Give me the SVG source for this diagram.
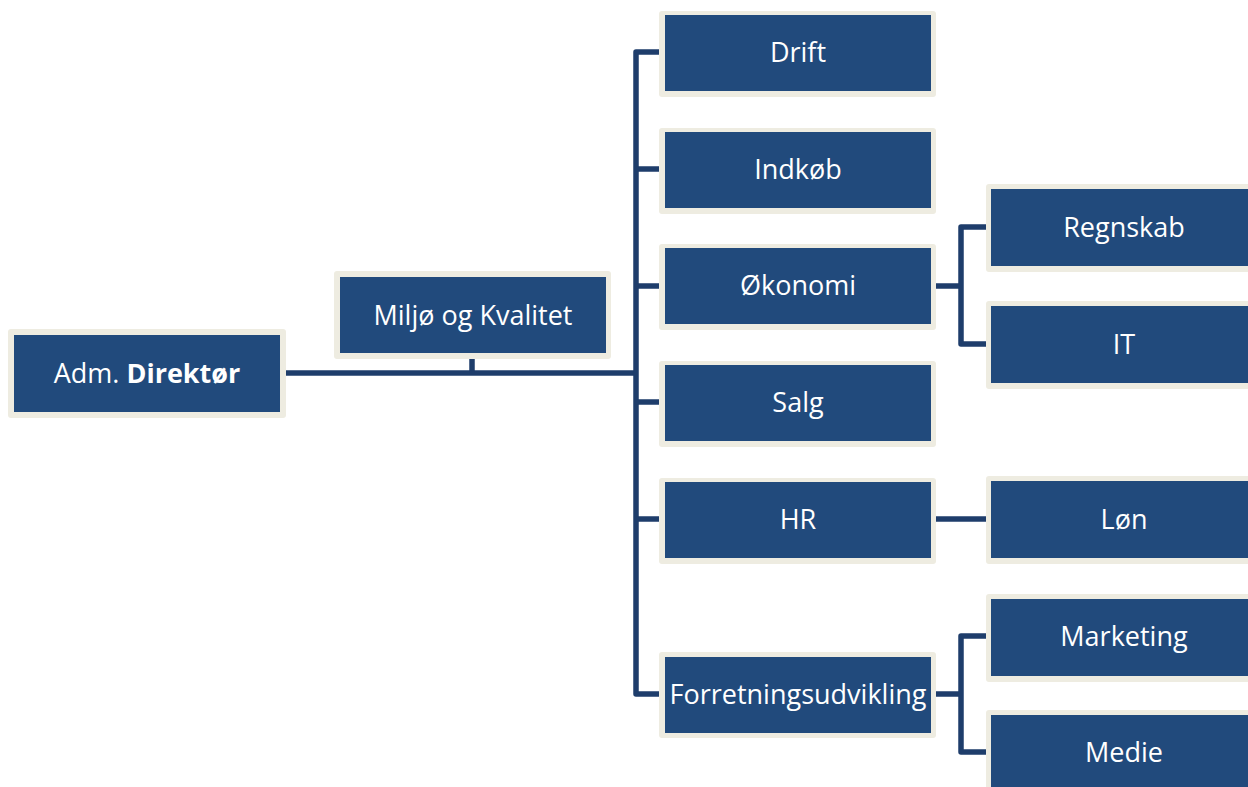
<svg xmlns="http://www.w3.org/2000/svg" width="1248" height="787" viewBox="0 0 1248 787">
<style>
.o{fill:#EEECE1}
.b{fill:#214A7C}
.t{fill:#FFFFFF;font-family:"Open Sans","Noto Sans",sans-serif;font-size:27px;text-anchor:middle}
.c{fill:none;stroke:#1E3D6B;stroke-width:5.5;stroke-linejoin:round}
</style>
<rect width="1248" height="787" fill="#FFFFFF"/>
<g id="connectors">
<path class="c" d="M286,373 H636"/>
<path class="c" d="M472,359 V373"/>
<path class="c" d="M659,52 H636 V694 H659"/>
<path class="c" d="M636,169 H659 M636,286 H659 M636,402 H659 M636,519 H659"/>
<path class="c" d="M936,286 H961 M986,227 H961 V344 H986"/>
<path class="c" d="M936,519 H986"/>
<path class="c" d="M936,694 H961 M986,636 H961 V752 H986"/>
</g>
<g id="adm"><rect class="o" x="8" y="329" width="278" height="89" rx="3"/><rect class="b" x="14" y="335" width="266" height="77"/><text class="t" x="147" y="383">Adm. <tspan font-weight="bold">Direktør</tspan></text></g>
<g id="miljo"><rect class="o" x="334" y="271" width="277" height="88" rx="3"/><rect class="b" x="340" y="277" width="266" height="76"/><text class="t" x="473" y="325">Miljø og Kvalitet</text></g>
<g id="drift"><rect class="o" x="659" y="11" width="277" height="86" rx="3"/><rect class="b" x="665" y="15" width="266" height="76"/><text class="t" x="798" y="62">Drift</text></g>
<g id="indkob"><rect class="o" x="659" y="128" width="277" height="86" rx="3"/><rect class="b" x="665" y="132" width="266" height="76"/><text class="t" x="798" y="179">Indkøb</text></g>
<g id="okonomi"><rect class="o" x="659" y="244" width="277" height="86" rx="3"/><rect class="b" x="665" y="248" width="266" height="76"/><text class="t" x="798" y="295">Økonomi</text></g>
<g id="salg"><rect class="o" x="659" y="361" width="277" height="86" rx="3"/><rect class="b" x="665" y="365" width="266" height="76"/><text class="t" x="798" y="412">Salg</text></g>
<g id="hr"><rect class="o" x="659" y="478" width="277" height="86" rx="3"/><rect class="b" x="665" y="482" width="266" height="76"/><text class="t" x="798" y="529">HR</text></g>
<g id="forretning"><rect class="o" x="659" y="652" width="277" height="86" rx="3"/><rect class="b" x="665" y="657" width="266" height="76"/><text class="t" x="798" y="704">Forretningsudvikling</text></g>
<g id="regnskab"><rect class="o" x="986" y="184" width="280" height="88" rx="3"/><rect class="b" x="991" y="189" width="270" height="77"/><text class="t" x="1124" y="237">Regnskab</text></g>
<g id="it"><rect class="o" x="986" y="301" width="280" height="88" rx="3"/><rect class="b" x="991" y="306" width="270" height="77"/><text class="t" x="1124" y="354">IT</text></g>
<g id="lon"><rect class="o" x="986" y="476" width="280" height="88" rx="3"/><rect class="b" x="991" y="481" width="270" height="77"/><text class="t" x="1124" y="529">Løn</text></g>
<g id="marketing"><rect class="o" x="986" y="594" width="280" height="88" rx="3"/><rect class="b" x="991" y="599" width="270" height="77"/><text class="t" x="1124" y="646">Marketing</text></g>
<g id="medie"><rect class="o" x="986" y="710" width="280" height="88" rx="3"/><rect class="b" x="991" y="715" width="270" height="77"/><text class="t" x="1124" y="762">Medie</text></g>
</svg>
